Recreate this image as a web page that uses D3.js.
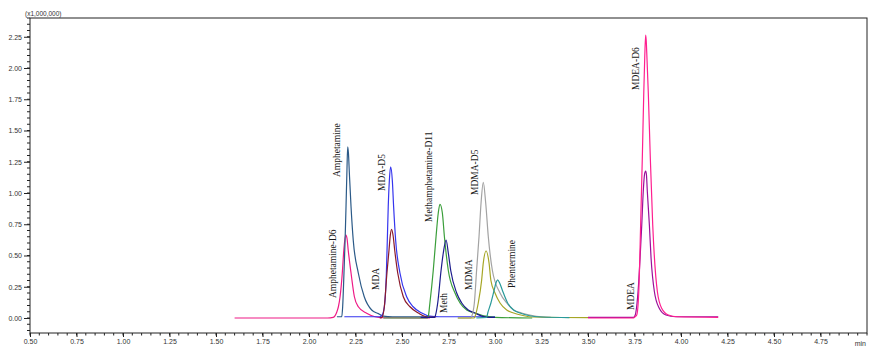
<!DOCTYPE html>
<html>
<head>
<meta charset="utf-8">
<script src="https://cdn.jsdelivr.net/npm/d3@7/dist/d3.min.js"></script>
<style>
  html, body { margin: 0; padding: 0; background: #fff; }
  svg { display: block; }
</style>
</head>
<body>
<svg id="chart" width="878" height="353"></svg>
<script>
// ---- Data (time in min, intensity in x1,000,000) ----
const xTickLabels = ["0.50","0.75","1.00","1.25","1.50","1.75","2.00","2.25","2.50","2.75","3.00","3.25","3.50","3.75","4.00","4.25","4.50","4.75"];
const yTickLabels = ["0.00","0.25","0.50","0.75","1.00","1.25","1.50","1.75","2.00","2.25"];

const amphetamineD6 = [[1.60,0],[2.10,0],[2.13,0.005],[2.15,0.05],[2.158,0.09],[2.167,0.17],[2.179,0.36],[2.187,0.54],[2.197,0.665],[2.204,0.64],[2.211,0.54],[2.226,0.36],[2.244,0.17],[2.265,0.09],[2.31,0.038],[2.355,0.01],[2.40,0.002],[2.65,0]];
const amphetamine = [[2.15,0.01],[2.176,0.01],[2.181,0.09],[2.188,0.36],[2.194,0.62],[2.199,0.89],[2.204,1.18],[2.208,1.37],[2.212,1.32],[2.217,1.16],[2.226,0.89],[2.238,0.62],[2.265,0.36],[2.297,0.17],[2.337,0.064],[2.373,0.035],[2.398,0.015],[2.45,0.01],[2.65,0.01]];
const mdaD5 = [[2.19,0.01],[2.38,0.01],[2.392,0.02],[2.405,0.09],[2.416,0.36],[2.421,0.62],[2.426,0.89],[2.432,1.10],[2.439,1.21],[2.448,1.10],[2.455,0.89],[2.466,0.62],[2.489,0.36],[2.525,0.17],[2.56,0.09],[2.606,0.04],[2.65,0.015],[2.70,0.01],[3.00,0.01]];
const mda = [[2.38,0],[2.392,0.005],[2.405,0.09],[2.419,0.36],[2.43,0.54],[2.437,0.66],[2.444,0.71],[2.452,0.66],[2.461,0.54],[2.477,0.36],[2.507,0.17],[2.543,0.09],[2.588,0.04],[2.63,0.01],[2.68,0.005]];
const methD11 = [[2.40,0],[2.635,0],[2.641,0.01],[2.65,0.12],[2.668,0.38],[2.683,0.65],[2.695,0.84],[2.704,0.91],[2.717,0.84],[2.728,0.65],[2.749,0.38],[2.785,0.20],[2.812,0.12],[2.848,0.064],[2.892,0.04],[2.95,0.015],[3.0,0.005],[3.20,0]];
const meth = [[2.60,0.005],[2.672,0.005],[2.677,0.01],[2.692,0.12],[2.71,0.38],[2.722,0.52],[2.737,0.624],[2.749,0.52],[2.762,0.38],[2.794,0.20],[2.821,0.12],[2.856,0.064],[2.892,0.04],[2.93,0.015],[2.97,0.005],[3.0,0.005]];
const mdmaD5 = [[2.80,0],[2.87,0],[2.874,0.01],[2.889,0.12],[2.901,0.38],[2.914,0.65],[2.925,0.92],[2.937,1.085],[2.95,0.92],[2.964,0.65],[2.986,0.38],[3.027,0.20],[3.063,0.12],[3.10,0.064],[3.143,0.04],[3.20,0.02],[3.25,0.01],[3.30,0.005]];
const mdma = [[2.80,0],[2.888,0],[2.892,0.01],[2.91,0.12],[2.928,0.30],[2.937,0.44],[2.952,0.536],[2.968,0.44],[2.978,0.30],[3.0,0.20],[3.027,0.12],[3.063,0.064],[3.10,0.04],[3.15,0.02],[3.20,0.008],[3.50,0.003]];
const phentermine = [[2.90,0],[2.955,0.005],[2.961,0.04],[2.978,0.12],[2.995,0.22],[3.005,0.28],[3.014,0.305],[3.025,0.28],[3.04,0.22],[3.068,0.12],[3.10,0.064],[3.134,0.04],[3.18,0.02],[3.25,0.008],[3.40,0.003]];
const mdeaD6 = [[3.50,0],[3.745,0],[3.753,0.01],[3.762,0.024],[3.773,0.21],[3.783,0.744],[3.792,1.28],[3.80,1.81],[3.805,2.08],[3.81,2.264],[3.813,2.22],[3.817,2.08],[3.824,1.81],[3.835,1.28],[3.848,0.744],[3.873,0.21],[3.896,0.078],[3.932,0.024],[3.98,0.01],[4.20,0.005]];
const mdea = [[3.50,0.005],[3.745,0.005],[3.753,0.02],[3.769,0.21],[3.78,0.48],[3.789,0.744],[3.797,1.01],[3.804,1.15],[3.81,1.176],[3.814,1.15],[3.819,1.01],[3.83,0.744],[3.839,0.48],[3.857,0.21],[3.883,0.078],[3.919,0.024],[3.97,0.01],[4.20,0.01]];

const seriesNames = ["Amphetamine-D6","Amphetamine","MDA-D5","MDA","Methamphetamine-D11","Meth","MDMA-D5","MDMA","Phentermine","MDEA","MDEA-D6"];
const seriesData = [amphetamineD6, amphetamine, mdaD5, mda, methD11, meth, mdmaD5, mdma, phentermine, mdea, mdeaD6];
const seriesColors = ["#ee1a86","#2b5a88","#3535ee","#8b1a2a","#3a9e3a","#1c1c8c","#a3a3a3","#a6a626","#2a9a9a","#9a0f9a","#ff1f8f"];

// label anchor (time, intensity) where each rotated label starts
const labelNames = ["Amphetamine","Amphetamine-D6","MDA-D5","MDA","Methamphetamine-D11","Meth","MDMA-D5","MDMA","Phentermine","MDEA-D6","MDEA"];
const labelAnchors = [[2.151,1.128],[2.129,0.16],[2.390,1.016],[2.360,0.224],[2.641,0.768],[2.726,0.04],[2.892,0.984],[2.857,0.224],[3.09,0.24],[3.758,1.824],[3.730,0.064]];

// ---- Layout ----
const svg = d3.select("#chart");
const L = 30, R = 867, T = 18, B = 333;
const x = d3.scaleLinear().domain([0.5, 5.0]).range([L, R]);
const y = d3.scaleLinear().domain([-0.12, 2.40]).range([B, T]);

const tickFont = "Liberation Sans, Arial, sans-serif";

// minor ticks
const xMinor = d3.range(0, 91).map(i => 0.5 + i * 0.05);
const yMinor = d3.range(-2, 49).map(i => i * 0.05);

// X axis
const xAxis = d3.axisBottom(x)
  .tickValues(xTickLabels.map(Number))
  .tickFormat((d, i) => xTickLabels[i])
  .tickSize(4).tickPadding(2);
const gx = svg.append("g").attr("transform", `translate(0,${B})`).call(xAxis);
gx.select(".domain").remove();
gx.selectAll(".tick line").attr("stroke", "#222");
gx.selectAll(".tick text").attr("font-family", tickFont).attr("font-size", 7).attr("fill", "#333");
svg.append("g").selectAll("line").data(xMinor).join("line")
  .attr("x1", d => x(d)).attr("x2", d => x(d))
  .attr("y1", B).attr("y2", B + 2.5).attr("stroke", "#222");

// Y axis
const yAxis = d3.axisLeft(y)
  .tickValues(yTickLabels.map(Number))
  .tickFormat((d, i) => yTickLabels[i])
  .tickSize(6).tickPadding(2);
const gy = svg.append("g").attr("transform", `translate(${L},0)`).call(yAxis);
gy.select(".domain").remove();
gy.selectAll(".tick line").attr("stroke", "#222");
gy.selectAll(".tick text").attr("font-family", tickFont).attr("font-size", 7).attr("fill", "#333");
svg.append("g").selectAll("line").data(yMinor).join("line")
  .attr("x1", L - 3).attr("x2", L)
  .attr("y1", d => y(d)).attr("y2", d => y(d)).attr("stroke", "#222");

// frame
svg.append("rect").attr("x", L).attr("y", T).attr("width", R - L).attr("height", B - T)
  .attr("fill", "none").attr("stroke", "#222").attr("stroke-width", 1);

// header / unit texts
svg.append("text").attr("x", 25).attr("y", 16).attr("font-family", tickFont)
  .attr("font-size", 6.5).attr("fill", "#333").text("(x1,000,000)");
svg.append("text").attr("x", 866).attr("y", 346).attr("text-anchor", "end").attr("font-family", tickFont)
  .attr("font-size", 7).attr("fill", "#333").text("min");

// traces
const line = d3.line().x(d => x(d[0])).y(d => y(d[1])).curve(d3.curveMonotoneX);
svg.append("g").selectAll("path").data(seriesData).join("path")
  .attr("d", d => line(d))
  .attr("fill", "none")
  .attr("stroke", (d, i) => seriesColors[i])
  .attr("stroke-width", 1.2)
  .attr("stroke-linejoin", "round");

// peak labels
svg.append("g").selectAll("text").data(labelNames).join("text")
  .attr("transform", (d, i) => `translate(${x(labelAnchors[i][0])},${y(labelAnchors[i][1])}) rotate(-90)`)
  .attr("dy", "0.35em")
  .attr("font-family", "Liberation Serif, Times New Roman, serif")
  .attr("font-size", 9.5)
  .attr("fill", "#1a1a1a")
  .text(d => d);
</script>
</body>
</html>
